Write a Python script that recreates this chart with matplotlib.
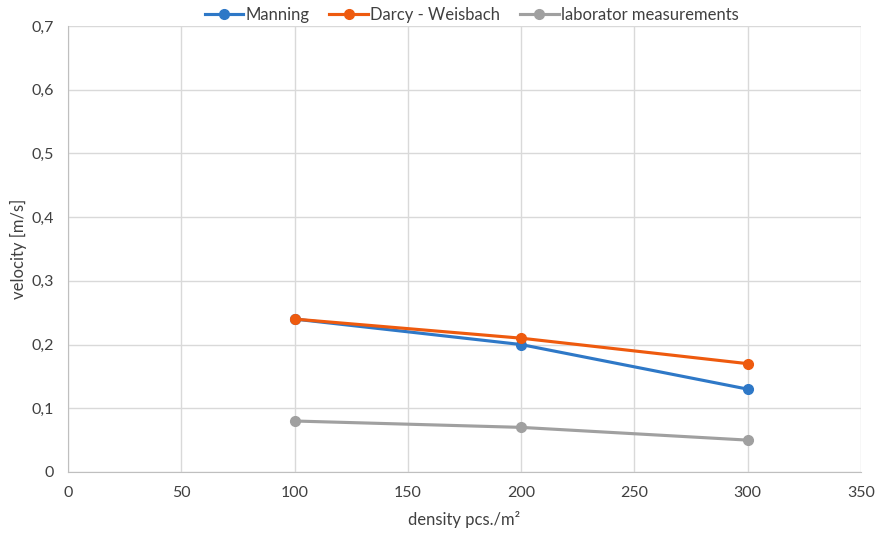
import matplotlib
matplotlib.use("Agg")
import matplotlib.pyplot as plt

plt.rcParams['font.family'] = ['Lato', 'DejaVu Sans']

density = [100, 200, 300]
manning = [0.24, 0.20, 0.13]
darcy = [0.24, 0.21, 0.17]
lab = [0.08, 0.07, 0.05]
series_names = ["Manning", "Darcy - Weisbach", "laborator measurements"]
x_ticks = [0, 50, 100, 150, 200, 250, 300, 350]
y_ticks = [0, 0.1, 0.2, 0.3, 0.4, 0.5, 0.6, 0.7]
y_tick_labels = ["0", "0,1", "0,2", "0,3", "0,4", "0,5", "0,6", "0,7"]

colors = ["#2E78C7", "#EE5A0E", "#A0A0A0"]

fig = plt.figure(figsize=(8.75, 5.33), dpi=100)
ax = fig.add_axes([0.0777, 0.1145, 0.9063, 0.8367])

for vals, name, c in zip([manning, darcy, lab], series_names, colors):
    ax.plot(density, vals, color=c, lw=2.25, marker='o', ms=7, label=name, zorder=3)

ax.set_xlim(0, 350)
ax.set_ylim(0, 0.7)
ax.set_xticks(x_ticks)
ax.set_yticks(y_ticks)
ax.set_yticklabels(y_tick_labels)
ax.grid(True, color='#D9D9D9', lw=1)
ax.set_axisbelow(True)
for s in ['top', 'right']:
    ax.spines[s].set_visible(False)
for s in ['left', 'bottom']:
    ax.spines[s].set_color('#BFBFBF')
ax.tick_params(length=0, labelsize=11.5, colors='#404040', pad=10)

ax.set_xlabel("density pcs./m²", fontsize=12, color='#404040', labelpad=8)
ax.set_ylabel("velocity [m/s]", fontsize=12, color='#404040', labelpad=3)

fig.legend(loc='upper center', bbox_to_anchor=(0.539, 1.015), ncol=3, frameon=False,
           fontsize=12, labelcolor='#404040', handlelength=2.3, columnspacing=1.2, handletextpad=0.15)

fig.savefig("out.png", dpi=100)
